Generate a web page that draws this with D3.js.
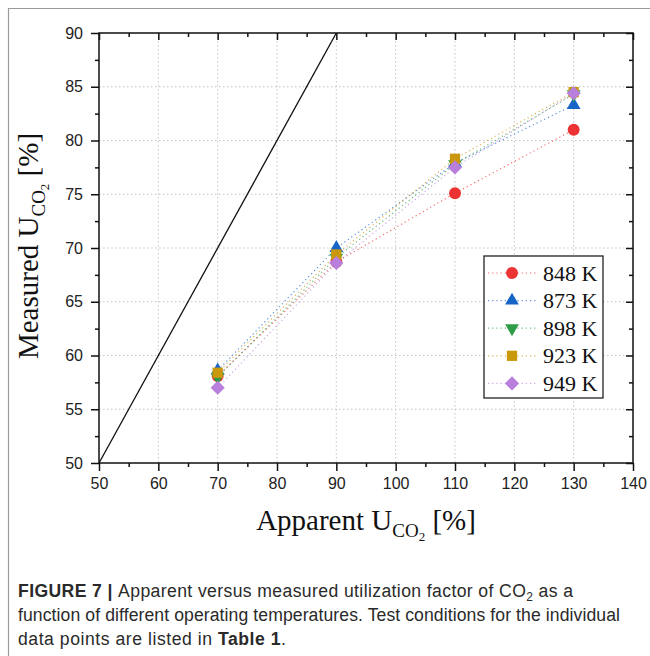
<!DOCTYPE html>
<html>
<head>
<meta charset="utf-8">
<script src="https://cdn.jsdelivr.net/npm/d3@7"></script>
<style>
  body { margin: 0; background: #fff; }
  svg { display: block; }
</style>
</head>
<body>
<svg id="chart" width="650" height="656"></svg>
<script>
// chart values
const apparent = [70, 90, 110, 130];
const seriesNames = ["848 K", "873 K", "898 K", "923 K", "949 K"];
const u848 = [58.1, 68.7, 75.1, 81.0];
const u873 = [58.6, 70.0, 77.9, 83.3];
const u898 = [58.0, 69.1, 77.8, 84.3];
const u923 = [58.4, 69.4, 78.3, 84.5];
const u949 = [57.0, 68.6, 77.5, 84.4];
const xTicks = [50, 60, 70, 80, 90, 100, 110, 120, 130, 140];
const yTicks = [50, 55, 60, 65, 70, 75, 80, 85, 90];
const parityLine = [50, 90];

const seriesValues = [u848, u873, u898, u923, u949];
const colors = ["#ec3232", "#1865c8", "#2f9d48", "#c9980e", "#b880dc"];
const shapes = ["circle", "up", "down", "square", "diamond"];

const svg = d3.select("#chart");

// page frame
svg.append("path")
    .attr("d", "M8.5,656 L8.5,8.5 L650,8.5")
    .attr("fill", "none")
    .attr("stroke", "#9a9a9a")
    .attr("stroke-width", 1.2);

const pLeft = 99, pRight = 633, pTop = 33, pBottom = 463;

const x = d3.scaleLinear().domain([50, 140]).range([pLeft, pRight]);
const y = d3.scaleLinear().domain([50, 90]).range([pBottom, pTop]);

// grid
const grid = svg.append("g").attr("stroke", "#c4c4c4").attr("stroke-width", 1).attr("stroke-dasharray", "1.5,2.5");
grid.selectAll(".gx").data(xTicks.slice(1, -1)).enter().append("line")
    .attr("x1", d => x(d)).attr("x2", d => x(d))
    .attr("y1", pTop).attr("y2", pBottom);
grid.selectAll(".gy").data(yTicks.slice(1, -1)).enter().append("line")
    .attr("x1", pLeft).attr("x2", pRight)
    .attr("y1", d => y(d)).attr("y2", d => y(d));

// y = x reference
svg.append("defs").append("clipPath").attr("id", "clip")
    .append("rect").attr("x", pLeft).attr("y", pTop).attr("width", pRight - pLeft).attr("height", pBottom - pTop);

svg.append("line")
    .attr("clip-path", "url(#clip)")
    .attr("x1", x(parityLine[0])).attr("y1", y(parityLine[0]))
    .attr("x2", x(parityLine[1])).attr("y2", y(parityLine[1]))
    .attr("stroke", "#111").attr("stroke-width", 1.3);

// minor ticks
const xMinor = d3.range(55, 140, 10);
const yMinor = d3.range(52.5, 90, 5);

function markerPath(i) {
    const s = shapes[i];
    if (s === "circle") return d3.symbol().type(d3.symbolCircle).size(112)();
    if (s === "up" || s === "down") return d3.symbol().type(d3.symbolTriangle).size(82)();
    if (s === "square") return d3.symbol().type(d3.symbolSquare).size(106)();
    return d3.symbol().type(d3.symbolSquare).size(100)();
}
function markerTransform(i, px, py) {
    const s = shapes[i];
    if (s === "down") return `translate(${px},${py}) rotate(180)`;
    if (s === "diamond") return `translate(${px},${py}) rotate(45)`;
    return `translate(${px},${py})`;
}

// series lines
const line = d3.line().x(d => x(d[0])).y(d => y(d[1]));
seriesValues.forEach((vals, i) => {
    const pts = apparent.map((a, k) => [a, vals[k]]);
    svg.append("path")
        .attr("d", line(pts))
        .attr("fill", "none")
        .attr("stroke", colors[i])
        .attr("stroke-opacity", 0.7)
        .attr("stroke-width", 1.2)
        .attr("stroke-dasharray", "1.2,3");
});
seriesValues.forEach((vals, i) => {
    svg.append("g").selectAll("path").data(apparent).enter().append("path")
        .attr("d", markerPath(i))
        .attr("transform", (a, k) => markerTransform(i, x(a), y(vals[k])))
        .attr("fill", colors[i]);
});

// axes
const tickFont = "'Liberation Sans', Arial, sans-serif";
const gx = svg.append("g").attr("transform", `translate(0,${pBottom})`)
    .call(d3.axisBottom(x).tickValues(xTicks).tickSize(8).tickPadding(7).tickFormat(d3.format("d")));
const gxMinor = svg.append("g").attr("transform", `translate(0,${pBottom})`)
    .call(d3.axisBottom(x).tickValues(xMinor).tickSize(4).tickFormat(""));
const gy = svg.append("g").attr("transform", `translate(${pLeft},0)`)
    .call(d3.axisLeft(y).tickValues(yTicks).tickSize(8).tickPadding(8).tickFormat(d3.format("d")));
const gyMinor = svg.append("g").attr("transform", `translate(${pLeft},0)`)
    .call(d3.axisLeft(y).tickValues(yMinor).tickSize(4).tickFormat(""));
const gt = svg.append("g").attr("transform", `translate(0,${pTop})`)
    .call(d3.axisBottom(x).tickValues(xTicks).tickSize(7).tickFormat(""));
const gtMinor = svg.append("g").attr("transform", `translate(0,${pTop})`)
    .call(d3.axisBottom(x).tickValues(xMinor).tickSize(4).tickFormat(""));
const gr = svg.append("g").attr("transform", `translate(${pRight},0)`)
    .call(d3.axisLeft(y).tickValues(yTicks).tickSize(7).tickFormat(""));
const grMinor = svg.append("g").attr("transform", `translate(${pRight},0)`)
    .call(d3.axisLeft(y).tickValues(yMinor).tickSize(4).tickFormat(""));

[gx, gxMinor, gy, gyMinor, gt, gtMinor, gr, grMinor].forEach(g => {
    g.select(".domain").remove();
    g.selectAll(".tick line").attr("stroke", "#111").attr("stroke-width", 1.5);
    g.selectAll("text").attr("font-family", tickFont).attr("font-size", 16).attr("fill", "#222");
});
svg.append("rect")
    .attr("x", pLeft).attr("y", pTop).attr("width", pRight - pLeft).attr("height", pBottom - pTop)
    .attr("fill", "none").attr("stroke", "#111").attr("stroke-width", 1.5);

// axis titles
const serif = "'Liberation Serif', 'Times New Roman', serif";
const xt = svg.append("text")
    .attr("x", 366).attr("y", 530)
    .attr("text-anchor", "middle")
    .attr("font-family", serif).attr("font-size", 29).attr("fill", "#111");
xt.append("tspan").text("Apparent U");
xt.append("tspan").attr("font-size", 19).attr("dy", 7).text("CO");
xt.append("tspan").attr("font-size", 13).attr("dy", 4).text("2");
xt.append("tspan").attr("dy", -11).text(" [%]");

const yt = svg.append("text")
    .attr("transform", "translate(38,246) rotate(-90)")
    .attr("text-anchor", "middle")
    .attr("font-family", serif).attr("font-size", 29).attr("fill", "#111");
yt.append("tspan").text("Measured U");
yt.append("tspan").attr("font-size", 19).attr("dy", 7).text("CO");
yt.append("tspan").attr("font-size", 13).attr("dy", 4).text("2");
yt.append("tspan").attr("dy", -11).text(" [%]");

// legend
const legend = svg.append("g").attr("transform", "translate(484,256)");
legend.append("rect")
    .attr("width", 119).attr("height", 142)
    .attr("fill", "#fff").attr("stroke", "#222").attr("stroke-width", 1.3);
seriesNames.forEach((name, i) => {
    const ly = 17 + i * 27.6;
    legend.append("line")
        .attr("x1", 4).attr("x2", 54).attr("y1", ly).attr("y2", ly)
        .attr("stroke", colors[i]).attr("stroke-opacity", 0.7)
        .attr("stroke-width", 1.2).attr("stroke-dasharray", "1.2,3");
    legend.append("path")
        .attr("d", markerPath(i))
        .attr("transform", markerTransform(i, 28, ly))
        .attr("fill", colors[i]);
    legend.append("text")
        .attr("x", 59).attr("y", ly + 7.5)
        .attr("font-family", serif).attr("font-size", 22).attr("fill", "#111")
        .text(name);
});

// caption
const capFont = "'Liberation Sans', Arial, sans-serif";
const cap = svg.append("g").attr("font-family", capFont).attr("font-size", 17.6).attr("fill", "#2a2a2a");
const c1 = cap.append("text").attr("x", 18).attr("y", 597)
    .attr("textLength", 555).attr("lengthAdjust", "spacing");
c1.append("tspan").attr("font-weight", "bold").text("FIGURE 7 | ");
c1.append("tspan").text("Apparent versus measured utilization factor of CO");
c1.append("tspan").attr("font-size", 12).attr("dy", 4).text("2");
c1.append("tspan").attr("dy", -4).text(" as a");
cap.append("text").attr("x", 18).attr("y", 621)
    .attr("textLength", 602).attr("lengthAdjust", "spacing")
    .text("function of different operating temperatures. Test conditions for the individual");
const c3 = cap.append("text").attr("x", 18).attr("y", 645)
    .attr("textLength", 268).attr("lengthAdjust", "spacing");
c3.append("tspan").text("data points are listed in ");
c3.append("tspan").attr("font-weight", "bold").text("Table 1");
c3.append("tspan").text(".");
</script>
</body>
</html>
